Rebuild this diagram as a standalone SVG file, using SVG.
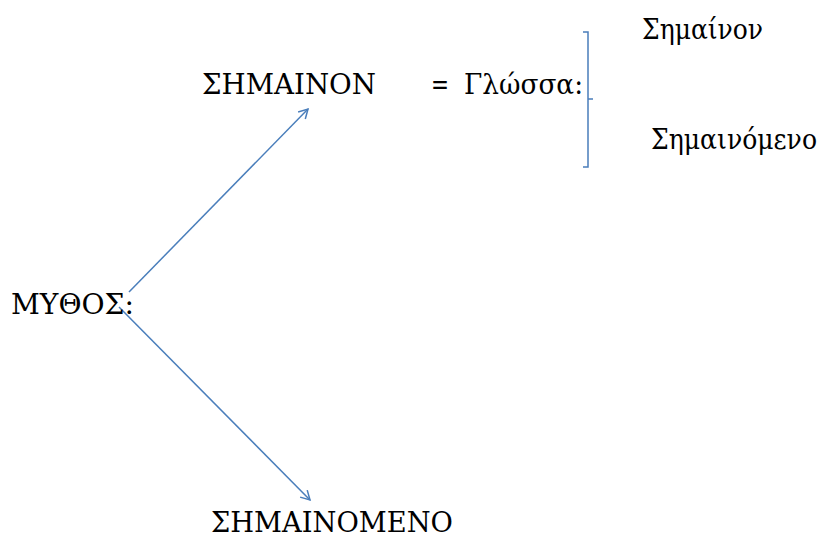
<svg xmlns="http://www.w3.org/2000/svg" width="822" height="538" viewBox="0 0 822 538">
<style>
text{font-family:"DejaVu Serif",serif;font-size:28px;fill:#000}
.c{stroke:#4a7ebb;stroke-width:1.5;fill:none}
</style>
<defs>
<marker id="ah" markerWidth="12" markerHeight="12" refX="10" refY="6" orient="auto" markerUnits="userSpaceOnUse">
<path d="M1,1 L10,6 L1,11" class="c"/>
</marker>
</defs>
<rect width="822" height="538" fill="#fff"/>
<g id="connectors">
<line class="c" x1="129" y1="292" x2="308" y2="109" marker-end="url(#ah)"/>
<line class="c" x1="119" y1="307" x2="310" y2="500" marker-end="url(#ah)"/>
<path id="bracket" class="c" d="M583,32 L588,32 L588,167 L583,167 M588,99 L593,99"/>
</g>
<g id="mythos"><text x="11" y="314" textLength="123" lengthAdjust="spacingAndGlyphs">ΜΥΘΟΣ:</text></g>
<g id="simainon"><text x="202" y="94" textLength="174" lengthAdjust="spacingAndGlyphs">ΣΗΜΑΙΝΟΝ</text></g>
<g id="glossa"><text x="431" y="94" textLength="18" lengthAdjust="spacingAndGlyphs">=</text><text x="464" y="94" textLength="119" lengthAdjust="spacingAndGlyphs">Γλώσσα:</text></g>
<g id="simainon-small"><text x="642" y="39" textLength="121" lengthAdjust="spacingAndGlyphs">Σημαίνον</text></g>
<g id="simainomeno-small"><text x="651" y="149" textLength="166" lengthAdjust="spacingAndGlyphs">Σημαινόμενο</text></g>
<g id="simainomeno"><text x="211" y="532" textLength="242" lengthAdjust="spacingAndGlyphs">ΣΗΜΑΙΝΟΜΕΝΟ</text></g>
</svg>
